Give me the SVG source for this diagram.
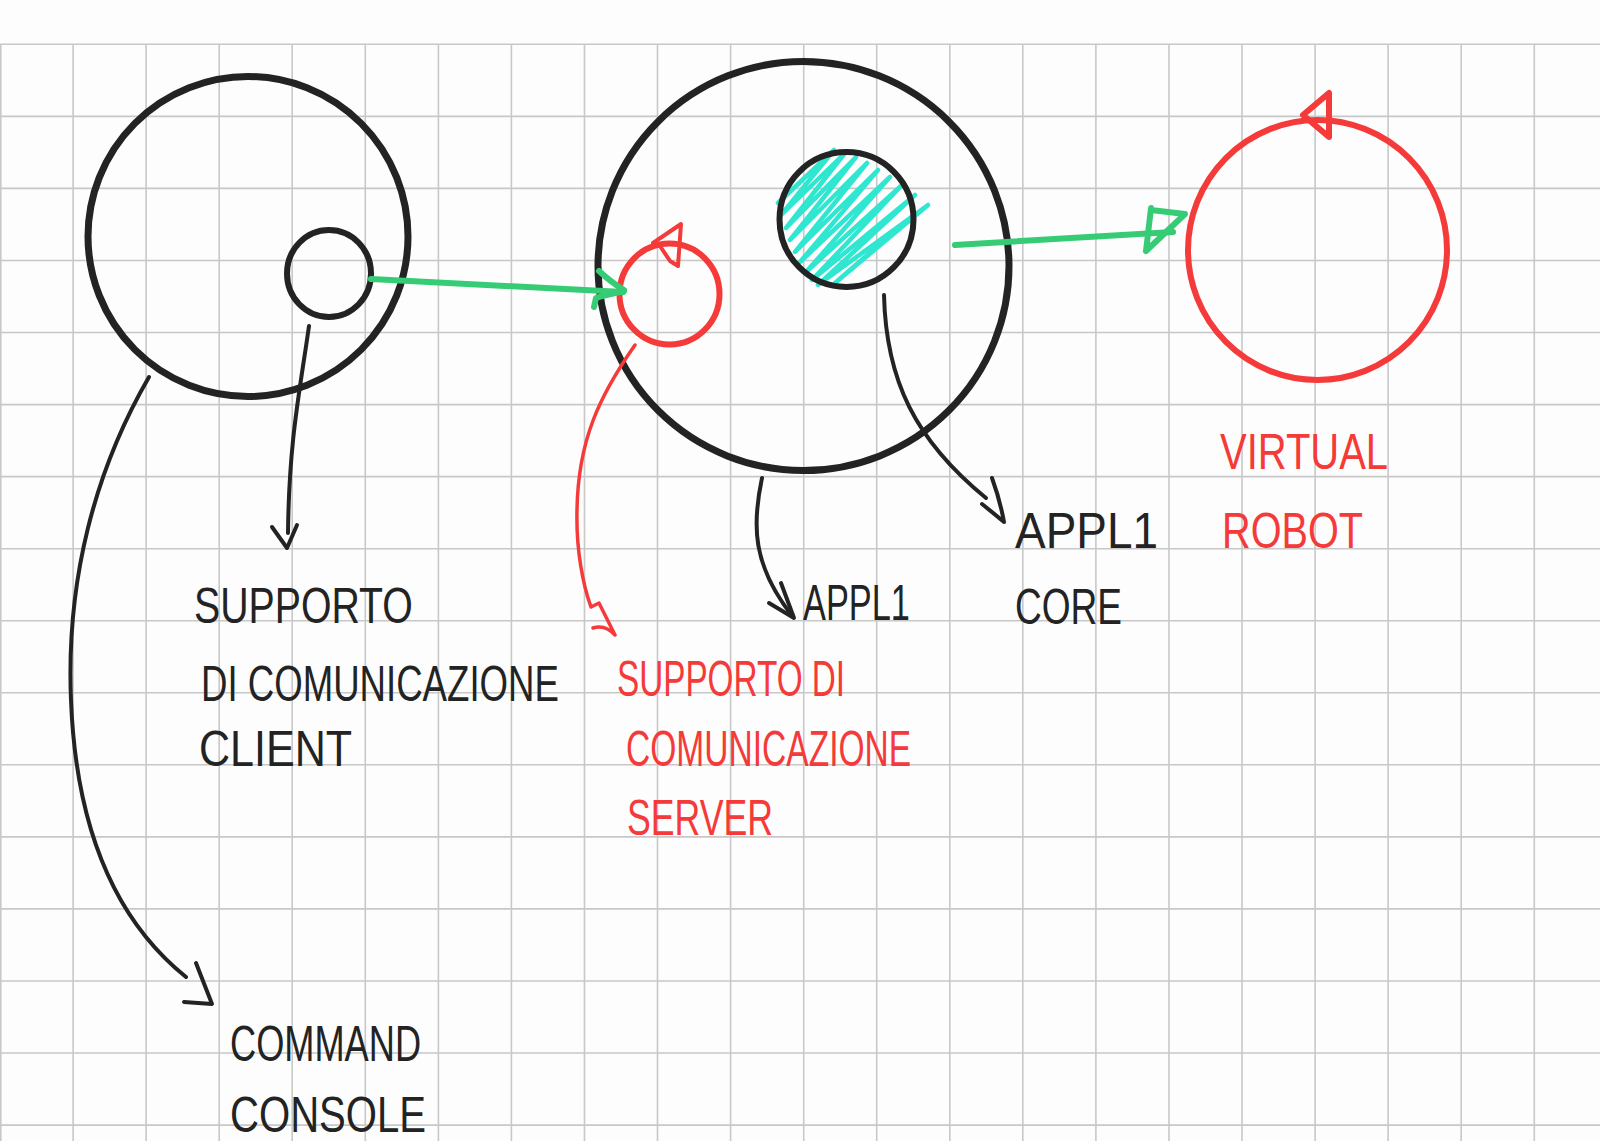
<svg xmlns="http://www.w3.org/2000/svg" width="1600" height="1141" viewBox="0 0 1600 1141">
<style>
.grid{stroke:#c8c8c8;stroke-width:1.6;fill:none}
.blk{fill:none;stroke:#232323;stroke-linecap:round;stroke-linejoin:round}
.red{fill:none;stroke:#f53a3a;stroke-linecap:round;stroke-linejoin:round}
.grn{fill:none;stroke:#36cc76;stroke-width:6;stroke-linecap:round;stroke-linejoin:round}
.teal{fill:none;stroke:#2fe6d0;stroke-width:4.5;stroke-linecap:round;stroke-linejoin:round}
text{font-family:"Liberation Sans",Arial,sans-serif;font-size:50px}
.tb{fill:#232323}
.tr{fill:#f53a3a}
</style>
<rect x="0" y="0" width="1600" height="1141" fill="#fdfdfd"/>
<g id="grid">
<path class="grid" d="M0.8 44.3V1141M73.1 44.3V1141M146.1 44.3V1141M219.2 44.3V1141M292.2 44.3V1141M365.3 44.3V1141M438.4 44.3V1141M511.4 44.3V1141M584.5 44.3V1141M657.5 44.3V1141M730.6 44.3V1141M803.7 44.3V1141M876.7 44.3V1141M949.8 44.3V1141M1022.8 44.3V1141M1095.9 44.3V1141M1169 44.3V1141M1242 44.3V1141M1315.1 44.3V1141M1388.1 44.3V1141M1461.2 44.3V1141M1534.3 44.3V1141"/>
<path class="grid" d="M0 44.3H1600M0 116.4H1600M0 188.4H1600M0 260.5H1600M0 332.5H1600M0 404.6H1600M0 476.6H1600M0 548.7H1600M0 620.7H1600M0 692.8H1600M0 764.8H1600M0 836.9H1600M0 908.9H1600M0 981H1600M0 1053H1600M0 1125.1H1600"/>
</g>
<g id="client">
<ellipse class="blk" cx="248" cy="236.5" rx="160" ry="160" stroke-width="7"/>
</g>
<g id="client-support">
<ellipse class="blk" cx="329" cy="273.5" rx="42" ry="43.5" stroke-width="6"/>
</g>
<g id="server">
<ellipse class="blk" cx="803.5" cy="266" rx="205.5" ry="204.5" stroke-width="7"/>
</g>
<g id="server-support">
<ellipse class="red" cx="669.5" cy="294" rx="50" ry="50.5" stroke-width="6"/>
<polyline class="red" stroke-width="4" points="653,243 681,224 678,266 670,261 660,246"/>
</g>
<g id="core">
<path class="teal" d="M778 203L834 150L781 215L845 153L786 228L856 157L790 240L867 163L795 252L878 170L800 262L890 177L806 272L902 185L812 280L915 195L818 285L928 205L835 283L905 222"/>
<ellipse class="blk" cx="846.5" cy="219.5" rx="67" ry="67.5" stroke-width="6"/>
</g>
<g id="virtual-robot">
<ellipse class="red" cx="1317.5" cy="250" rx="129.5" ry="130" stroke-width="6"/>
<polygon class="red" stroke-width="6" points="1303,115 1329,93 1329,137"/>
</g>
<g id="connectors">
<path class="grn" d="M371 279L623 292"/>
<path class="grn" stroke-width="5" d="M599 271Q612 283 624 290M624 291Q605 295 596 298L594 307"/>
<path class="grn" d="M955 245L1173 232"/>
<path class="grn" stroke-width="5" d="M1151 208L1146 251M1151 210L1185 214L1146 251"/>
<path class="blk" stroke-width="4" d="M309 326C300 390 289 440 288 533"/>
<path class="blk" stroke-width="4" d="M272 527L287 548L297 525"/>
<path class="blk" stroke-width="4" d="M149 377C95 470 66 580 71 700C76 830 115 920 186 977"/>
<path class="blk" stroke-width="4" d="M196 963L212 1004L184 1002"/>
<path class="blk" stroke-width="4" d="M762 478C752 525 752 565 793 617"/>
<path class="blk" stroke-width="4" d="M781 583L794 618L769 603"/>
<path class="blk" stroke-width="4" d="M884 295C886 380 915 440 986 498"/>
<path class="blk" stroke-width="4" d="M992 478Q1000 500 1004 522Q992 512 982 504"/>
<path class="red" stroke-width="3.5" d="M635 345C600 395 578 440 577 510C576 550 583 585 591 607L599 603L615 635M615 635Q605 624 593 628"/>
</g>
<g id="labels">
<text class="tb" transform="translate(194 623) scale(0.780 1)" textLength="280.6" lengthAdjust="spacingAndGlyphs">SUPPORTO</text>
<text class="tb" transform="translate(201 701) scale(0.732 1)" textLength="488.9" lengthAdjust="spacingAndGlyphs">DI COMUNICAZIONE</text>
<text class="tb" transform="translate(199 766) scale(0.861 1)" textLength="177.8" lengthAdjust="spacingAndGlyphs">CLIENT</text>
<text class="tr" transform="translate(617 696) scale(0.662 1)" textLength="344.5" lengthAdjust="spacingAndGlyphs">SUPPORTO DI</text>
<text class="tr" transform="translate(626 766) scale(0.671 1)" textLength="425" lengthAdjust="spacingAndGlyphs">COMUNICAZIONE</text>
<text class="tr" transform="translate(627 835) scale(0.710 1)" textLength="205.6" lengthAdjust="spacingAndGlyphs">SERVER</text>
<text class="tb" transform="translate(803 620) scale(0.687 1)" textLength="155.65" lengthAdjust="spacingAndGlyphs">APPL1</text>
<text class="tb" transform="translate(1015 548) scale(0.919 1)" textLength="155.65" lengthAdjust="spacingAndGlyphs">APPL1</text>
<text class="tb" transform="translate(1015 624) scale(0.741 1)" textLength="144.45" lengthAdjust="spacingAndGlyphs">CORE</text>
<text class="tr" transform="translate(1220 469) scale(0.796 1)" textLength="211.15" lengthAdjust="spacingAndGlyphs">VIRTUAL</text>
<text class="tr" transform="translate(1222 548) scale(0.793 1)" textLength="177.8" lengthAdjust="spacingAndGlyphs">ROBOT</text>
<text class="tb" transform="translate(230 1061) scale(0.724 1)" textLength="263.85" lengthAdjust="spacingAndGlyphs">COMMAND</text>
<text class="tb" transform="translate(230 1132) scale(0.802 1)" textLength="244.5" lengthAdjust="spacingAndGlyphs">CONSOLE</text>
</g>
</svg>
